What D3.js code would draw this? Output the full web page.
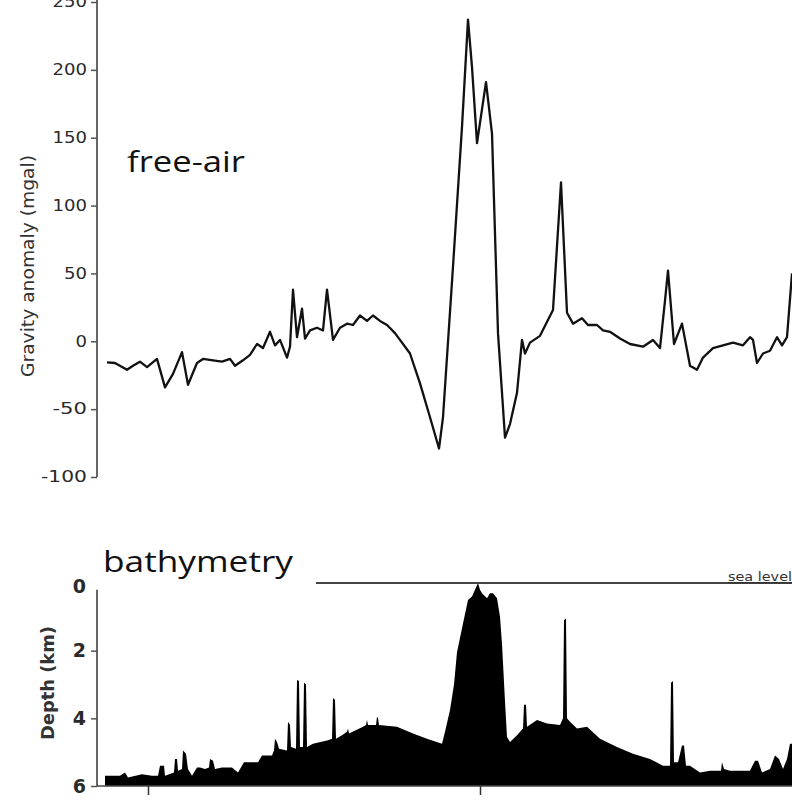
<!DOCTYPE html>
<html>
  <head>
    <meta charset="UTF-8">
    <title>free-air gravity and bathymetry</title>
    <script src="https://d3js.org/d3.v7.min.js"></script>
    <style>
    body { margin: 0; background: #fff; }
    .tick text { fill: #2a2a2a; }
    </style>
  </head>
  <body>
  </body>

  <script type="text/javascript">

  // distance along profile (km) and free-air anomaly (mgal)
  var gravKm = [0, 16, 40, 52, 66, 80, 100, 116, 132, 150, 162, 180, 192, 212, 230, 246, 256, 272, 286, 300,
    312, 326, 336, 346, 360, 366, 372, 380, 390, 396, 406, 420, 432, 440, 452, 466, 480, 492, 506, 520,
    532, 546, 560, 576, 586, 606, 626, 646, 664, 672, 692, 710, 722, 730, 740, 758, 770, 782, 796, 806,
    820, 830, 836, 846, 866, 892, 908, 920, 932, 950, 962, 980, 992, 1006, 1026, 1046, 1072, 1092, 1106, 1116,
    1122, 1134, 1150, 1166, 1180, 1192, 1212, 1232, 1252, 1272, 1286, 1292, 1300, 1312, 1326, 1340, 1350, 1360, 1370]
  var gravMgal = [-15.5, -16, -21, -18, -15, -19, -13, -34, -24, -8, -32, -16, -13, -14, -15, -13, -18, -14, -10, -2,
    -5, 7, -3, 1, -12, -4, 38, 3, 24, 2, 8, 10, 8, 38, 1, 10, 13, 12, 19, 15,
    19, 15, 12, 6, 1, -9, -31, -56, -79, -56, 55, 158, 237, 202, 146, 191, 153, 6, -71, -61,
    -38, 1, -9, -1, 4, 23, 117, 21, 13, 17, 12, 12, 8, 7, 2, -2, -4, 1, -5, 30,
    52, -2, 13, -18, -21, -12, -5, -3, -1, -3, 3, 1, -16, -9, -7, 3, -3, 3, 50]

  // distance along profile (km) and sea-floor depth (km)
  var bathyKm = [-4, 26, 36, 42, 70, 90, 102, 106, 114, 116, 134, 136, 140, 142, 150, 152, 158, 162, 170, 180,
    186, 196, 204, 206, 212, 216, 230, 250, 262, 274, 302, 310, 330, 334, 336, 340, 344, 360, 362, 366,
    368, 378, 380, 384, 386, 392, 394, 398, 400, 412, 442, 450, 452, 456, 458, 470, 480, 482, 484, 512,
    518, 520, 522, 538, 540, 542, 544, 580, 612, 640, 670, 676, 686, 694, 700, 712, 722, 730, 736, 742,
    746, 750, 760, 766, 772, 780, 786, 790, 796, 800, 806, 820, 832, 834, 838, 840, 860, 880, 906, 912,
    914, 918, 920, 926, 940, 960, 986, 1020, 1052, 1086, 1112, 1126, 1128, 1132, 1134, 1142, 1150, 1154, 1158, 1166,
    1186, 1206, 1228, 1230, 1234, 1246, 1286, 1296, 1302, 1310, 1326, 1336, 1344, 1352, 1360, 1366, 1370]
  var bathyDepth = [5.7, 5.7, 5.6, 5.75, 5.65, 5.7, 5.7, 5.4, 5.4, 5.7, 5.6, 5.2, 5.2, 5.55, 5.5, 4.95, 5.05, 5.5, 5.7, 5.45,
    5.45, 5.5, 5.45, 5.2, 5.25, 5.5, 5.45, 5.45, 5.6, 5.3, 5.3, 5.1, 5.1, 4.95, 4.6, 4.7, 4.9, 4.95, 4.1, 4.2,
    4.85, 4.9, 2.87, 2.9, 4.85, 4.85, 2.95, 3.0, 4.85, 4.75, 4.65, 4.6, 3.4, 3.45, 4.6, 4.5, 4.4, 4.3, 4.45, 4.25,
    4.2, 4.05, 4.2, 4.2, 3.95, 4.0, 4.2, 4.25, 4.45, 4.6, 4.75, 4.4, 3.75, 3.0, 2.05, 1.2, 0.5, 0.4, 0.2, 0.0,
    0.2, 0.3, 0.45, 0.3, 0.3, 0.45, 1.0, 1.8, 3.5, 4.55, 4.7, 4.5, 4.3, 3.6, 3.6, 4.25, 4.05, 4.15, 4.2, 4.0,
    1.1, 1.05, 4.0, 4.1, 4.3, 4.25, 4.6, 4.85, 5.05, 5.2, 5.4, 5.4, 2.95, 2.9, 5.3, 5.3, 4.8, 4.8, 5.4, 5.4,
    5.6, 5.55, 5.55, 5.3, 5.5, 5.55, 5.55, 5.25, 5.25, 5.6, 5.5, 5.1, 5.2, 5.5, 5.2, 4.75, 4.75]

  var gravTicks = [-100, -50, 0, 50, 100, 150, 200, 250]
  var depthTicks = [0, 2, 4, 6]
  var markKm = [82, 746]
  var seaLevelKm = [418, 1370]

  var W = 792, H = 801

  var svg = d3.select('body')
    .append('svg')
    .attr('width', W)
    .attr('height', H)

  var x = d3.scaleLinear().domain([0, 1370]).range([107, 792])
  var yG = d3.scaleLinear().domain([-100, 250]).range([477, 2])
  var yD = d3.scaleLinear().domain([0, 6]).range([583, 786])

  // the scanned figure is stretched sideways, so labels get a fixed width per character
  function widen(sel, perChar) {
    sel.attr('textLength', function() { return this.textContent.length * perChar })
      .attr('lengthAdjust', 'spacingAndGlyphs')
  }

  // ---- top panel: free-air gravity ----
  var gAxis = svg.append('g')
    .attr('transform', 'translate(97,0)')
    .call(d3.axisLeft(yG).tickValues(gravTicks).tickSize(6).tickSizeOuter(0).tickPadding(4)
      .tickFormat(d => String(d)))
  gAxis.select('.domain').attr('d', 'M0,-2V' + yG(-100)).attr('stroke', '#666').attr('stroke-width', 2)
  gAxis.selectAll('.tick line').attr('stroke', '#555').attr('stroke-width', 1.5)
  gAxis.selectAll('.tick text')
    .style('font-family', 'DejaVu Sans')
    .style('font-size', '15px')
    .call(widen, 11.5)

  svg.append('text')
    .attr('transform', 'translate(34,266) rotate(-90)')
    .attr('text-anchor', 'middle')
    .attr('textLength', 222)
    .attr('lengthAdjust', 'spacingAndGlyphs')
    .style('font-family', 'DejaVu Sans')
    .style('font-size', '17px')
    .style('fill', '#333')
    .text('Gravity anomaly  (mgal)')

  svg.append('path')
    .datum(d3.zip(gravKm, gravMgal))
    .attr('fill', 'none')
    .attr('stroke', '#111')
    .attr('stroke-width', 2.3)
    .attr('stroke-linejoin', 'round')
    .attr('d', d3.line().x(d => x(d[0])).y(d => yG(d[1])))

  svg.append('text')
    .attr('x', 127).attr('y', 172)
    .attr('textLength', 118)
    .attr('lengthAdjust', 'spacingAndGlyphs')
    .style('font-family', 'Open Sans')
    .style('font-size', '30px')
    .style('fill', '#111')
    .text('free-air')

  // ---- bottom panel: bathymetry ----
  svg.append('path')
    .datum(d3.zip(bathyKm, bathyDepth))
    .attr('fill', '#000')
    .attr('d', d3.area().x(d => x(d[0])).y0(yD(6)).y1(d => yD(d[1])))

  svg.append('line')
    .attr('x1', x(seaLevelKm[0])).attr('x2', x(seaLevelKm[1]))
    .attr('y1', yD(0)).attr('y2', yD(0))
    .attr('stroke', '#444').attr('stroke-width', 2)

  svg.append('text')
    .attr('x', 728).attr('y', yD(0) - 2)
    .attr('textLength', 64)
    .attr('lengthAdjust', 'spacingAndGlyphs')
    .style('font-family', 'DejaVu Sans')
    .style('font-size', '12px')
    .style('fill', '#333')
    .style('text-decoration', 'underline')
    .text('sea level')

  var dAxis = svg.append('g')
    .attr('transform', 'translate(97,0)')
    .call(d3.axisLeft(yD).tickValues(depthTicks).tickSize(6).tickSizeOuter(0).tickPadding(5)
      .tickFormat(d => String(d)))
  dAxis.select('.domain').attr('d', 'M0,' + yD(0.2) + 'V' + yD(6)).attr('stroke', '#666').attr('stroke-width', 2)
  dAxis.selectAll('.tick line').attr('stroke', '#555').attr('stroke-width', 1.5)
    .filter(d => d == 0).remove()
  dAxis.selectAll('.tick text')
    .style('font-family', 'DejaVu Sans')
    .style('font-weight', 'bold')
    .style('font-size', '19px')
  dAxis.selectAll('.tick').filter(d => d == 0).attr('transform', 'translate(0,' + (yD(0) + 4) + ')')

  var xAxis = svg.append('g')
    .attr('transform', 'translate(0,' + yD(6) + ')')
    .call(d3.axisBottom(x).tickValues(markKm).tickSize(9).tickSizeOuter(0).tickFormat(''))
  xAxis.select('.domain').attr('d', 'M97,0H' + W).attr('stroke', '#444').attr('stroke-width', 1.5)
  xAxis.selectAll('.tick line').attr('stroke', '#333').attr('stroke-width', 1.5)

  svg.append('text')
    .attr('transform', 'translate(54,683) rotate(-90)')
    .attr('text-anchor', 'middle')
    .attr('textLength', 114)
    .attr('lengthAdjust', 'spacingAndGlyphs')
    .style('font-family', 'DejaVu Sans')
    .style('font-weight', 'bold')
    .style('font-size', '17px')
    .style('fill', '#333')
    .text('Depth (km)')

  svg.append('text')
    .attr('x', 103).attr('y', 572)
    .attr('textLength', 190)
    .attr('lengthAdjust', 'spacingAndGlyphs')
    .style('font-family', 'Open Sans')
    .style('font-size', '30px')
    .style('fill', '#111')
    .text('bathymetry')

  </script>

</html>
